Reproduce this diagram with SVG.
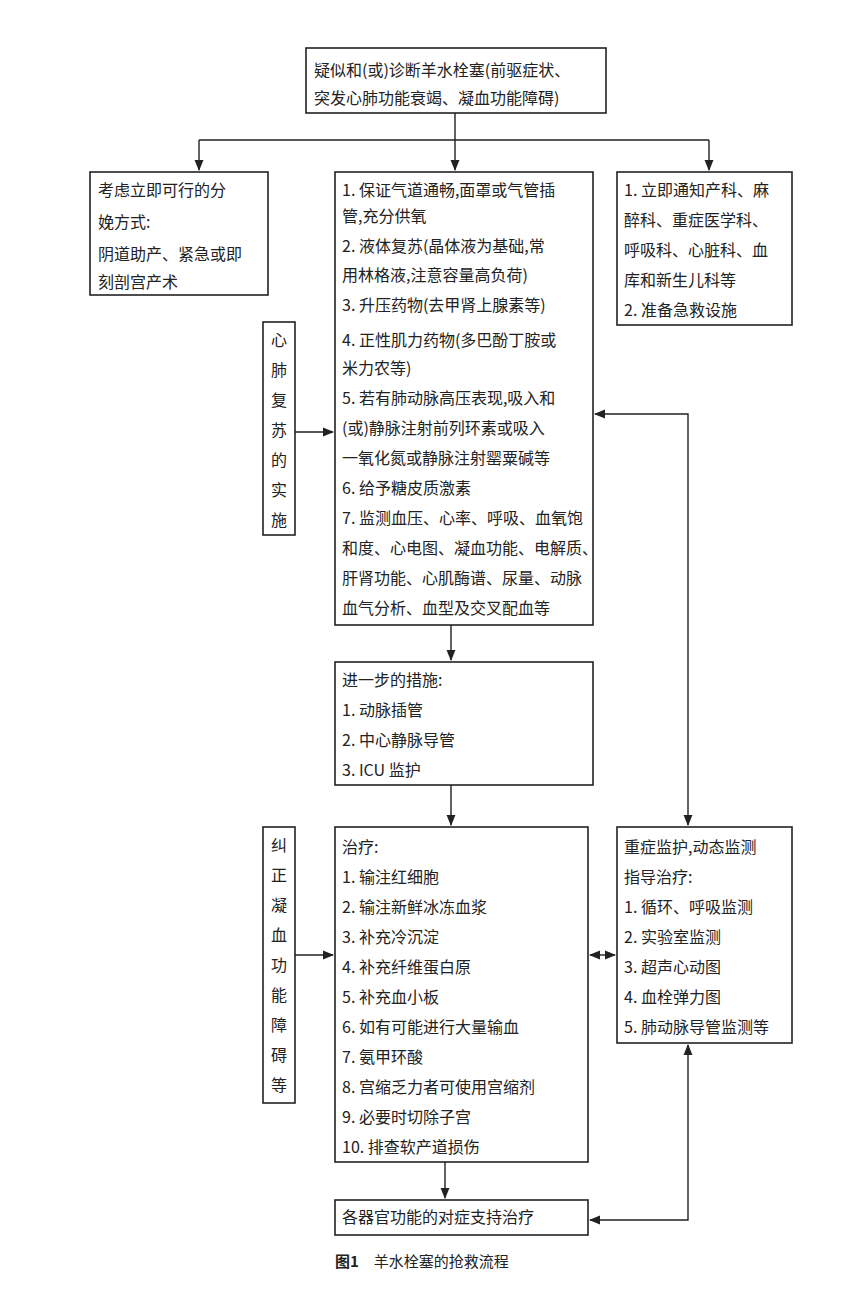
<svg xmlns="http://www.w3.org/2000/svg" width="842" height="1300" viewBox="0 0 842 1300">
<style>
rect{fill:#fff;stroke:#222;stroke-width:1.6}
text{font-family:"Noto Sans CJK SC","Liberation Serif",serif;font-size:16px;fill:#222}
.c{stroke:#222;stroke-width:1.4;fill:none}
.cap{font-size:15px}
.b{font-weight:bold}
</style>
<defs><marker id="a" viewBox="0 0 10 10" refX="9" refY="5" markerWidth="8" markerHeight="8" orient="auto-start-reverse"><path d="M0,1L10,5L0,9z" fill="#222"/></marker></defs>
<rect width="842" height="1300" style="fill:#fff;stroke:none"/>
<g id="connectors">
<path class="c" d="M455,113V140M199,140H709"/>
<path class="c" d="M199,140V170" marker-end="url(#a)"/>
<path class="c" d="M455,140V170" marker-end="url(#a)"/>
<path class="c" d="M709,140V170" marker-end="url(#a)"/>
<path class="c" d="M295,432H333" marker-end="url(#a)"/>
<path class="c" d="M451,625V660" marker-end="url(#a)"/>
<path class="c" d="M451,785V825" marker-end="url(#a)"/>
<path class="c" d="M295,955H333" marker-end="url(#a)"/>
<path class="c" d="M590,955H615" marker-start="url(#a)" marker-end="url(#a)"/>
<path class="c" d="M595,414H688V825" marker-start="url(#a)" marker-end="url(#a)"/>
<path class="c" d="M445,1162V1198" marker-end="url(#a)"/>
<path class="c" d="M688,1045V1220H590" marker-start="url(#a)" marker-end="url(#a)"/>
</g>
<g id="top"><rect x="306" y="48" width="300" height="65"/>
<text x="314" y="76">疑似和(或)诊断羊水栓塞(前驱症状、</text><text x="314" y="104">突发心肺功能衰竭、凝血功能障碍)</text></g>
<g id="left1"><rect x="90" y="172" width="178" height="123"/>
<text x="98" y="196">考虑立即可行的分</text><text x="98" y="228">娩方式:</text><text x="98" y="260">阴道助产、紧急或即</text><text x="98" y="288">刻剖宫产术</text></g>
<g id="mid1"><rect x="335" y="172" width="258" height="453"/>
<text x="342" y="196">1. 保证气道通畅,面罩或气管插</text>
<text x="342" y="222">管,充分供氧</text>
<text x="342" y="252">2. 液体复苏(晶体液为基础,常</text>
<text x="342" y="281">用林格液,注意容量高负荷)</text>
<text x="342" y="311">3. 升压药物(去甲肾上腺素等)</text>
<text x="342" y="346">4. 正性肌力药物(多巴酚丁胺或</text>
<text x="342" y="374">米力农等)</text>
<text x="342" y="404">5. 若有肺动脉高压表现,吸入和</text>
<text x="342" y="434">(或)静脉注射前列环素或吸入</text>
<text x="342" y="464">一氧化氮或静脉注射罂粟碱等</text>
<text x="342" y="494">6. 给予糖皮质激素</text>
<text x="342" y="524">7. 监测血压、心率、呼吸、血氧饱</text>
<text x="342" y="554">和度、心电图、凝血功能、电解质、</text>
<text x="342" y="584">肝肾功能、心肌酶谱、尿量、动脉</text>
<text x="342" y="614">血气分析、血型及交叉配血等</text></g>
<g id="right1"><rect x="617" y="172" width="175" height="153"/>
<text x="624" y="196">1. 立即通知产科、麻</text><text x="624" y="226">醉科、重症医学科、</text><text x="624" y="256">呼吸科、心脏科、血</text><text x="624" y="286">库和新生儿科等</text><text x="624" y="316">2. 准备急救设施</text></g>
<g id="cpr"><rect x="263" y="322" width="32" height="213"/>
<g text-anchor="middle"><text x="279" y="346">心</text><text x="279" y="376">肺</text><text x="279" y="406">复</text><text x="279" y="436">苏</text><text x="279" y="466">的</text><text x="279" y="496">实</text><text x="279" y="526">施</text></g></g>
<g id="further"><rect x="335" y="662" width="258" height="123"/>
<text x="342" y="686">进一步的措施:</text><text x="342" y="716">1. 动脉插管</text><text x="342" y="746">2. 中心静脉导管</text><text x="342" y="776">3. ICU 监护</text></g>
<g id="coag"><rect x="263" y="827" width="32" height="276"/>
<g text-anchor="middle"><text x="279" y="851">纠</text><text x="279" y="881">正</text><text x="279" y="911">凝</text><text x="279" y="941">血</text><text x="279" y="971">功</text><text x="279" y="1001">能</text><text x="279" y="1031">障</text><text x="279" y="1061">碍</text><text x="279" y="1091">等</text></g></g>
<g id="treat"><rect x="335" y="827" width="253" height="335"/>
<text x="342" y="853">治疗:</text><text x="342" y="883">1. 输注红细胞</text><text x="342" y="913">2. 输注新鲜冰冻血浆</text><text x="342" y="943">3. 补充冷沉淀</text><text x="342" y="973">4. 补充纤维蛋白原</text><text x="342" y="1003">5. 补充血小板</text><text x="342" y="1033">6. 如有可能进行大量输血</text><text x="342" y="1063">7. 氨甲环酸</text><text x="342" y="1093">8. 宫缩乏力者可使用宫缩剂</text><text x="342" y="1123">9. 必要时切除子宫</text><text x="342" y="1153">10. 排查软产道损伤</text></g>
<g id="monitor"><rect x="617" y="827" width="175" height="216"/>
<text x="624" y="853">重症监护,动态监测</text><text x="624" y="883">指导治疗:</text><text x="624" y="913">1. 循环、呼吸监测</text><text x="624" y="943">2. 实验室监测</text><text x="624" y="973">3. 超声心动图</text><text x="624" y="1003">4. 血栓弹力图</text><text x="624" y="1033">5. 肺动脉导管监测等</text></g>
<g id="support"><rect x="335" y="1200" width="253" height="35"/>
<text x="342" y="1223">各器官功能的对症支持治疗</text></g>
<text x="335" y="1267" class="cap"><tspan class="b">图1</tspan>　羊水栓塞的抢救流程</text>
</svg>
